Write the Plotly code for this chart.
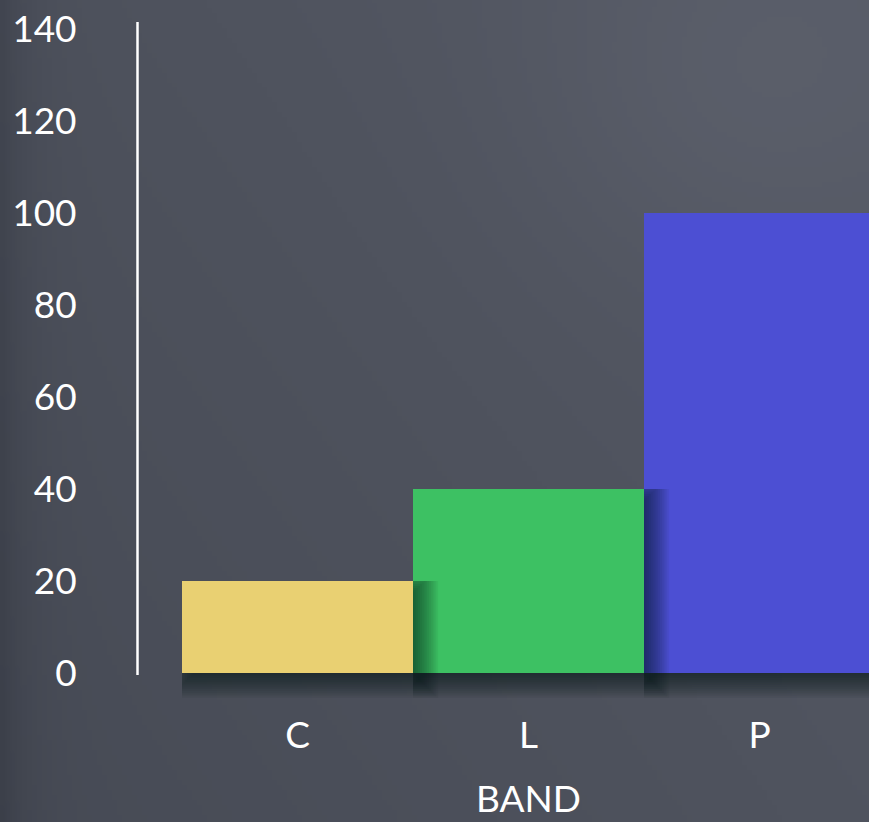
import base64
import struct
import zlib

import numpy as np
import plotly.graph_objects as go

# ---- data -------------------------------------------------------------
categories = ["C", "L", "P"]
values = [20, 40, 100]
bar_colors = ["#E9D072", "#3DC163", "#4C4FD3"]
y_ticks = [0, 20, 40, 60, 80, 100, 120, 140]
x_title = "BAND"

# ---- canvas / geometry -----------------------------------------------
W, H = 869, 822
L_M, R_M, T_M, B_M = 120, 0, 22, 122
plot_w = W - L_M - R_M
plot_h = H - T_M - B_M
x_range = [-0.7684, 2.474]
y_range = [-5.87, 141.52]
px_x = plot_w / (x_range[1] - x_range[0])
px_y = plot_h / (y_range[1] - y_range[0])

FONT = "Lato"
CHALK = "#FFFFFF"
FONT_SIZE = 37


# ---- chalkboard background (smooth gradient rendered to a PNG) -------
def png_data_uri(arr):
    h, w, _ = arr.shape
    raw = b"".join(b"\x00" + arr[r].tobytes() for r in range(h))

    def chunk(tag, data):
        c = struct.pack(">I", len(data)) + tag + data
        return c + struct.pack(">I", zlib.crc32(tag + data) & 0xFFFFFFFF)

    png = b"\x89PNG\r\n\x1a\n"
    png += chunk(b"IHDR", struct.pack(">IIBBBBB", w, h, 8, 2, 0, 0, 0))
    png += chunk(b"IDAT", zlib.compress(raw, 9))
    png += chunk(b"IEND", b"")
    return "data:image/png;base64," + base64.b64encode(png).decode()


gw, gh = 174, 165
u = np.linspace(0, 1, gw)[None, :]
v = np.linspace(0, 1, gh)[:, None]
base = np.array([79.0, 83.0, 94.0])
shade = (9 * (u - 0.5) - 6 * (v - 0.4)
         - 11 * np.exp(-u / 0.03)
         + 6 * np.exp(-((u - 0.85) ** 2 + (v - 0.1) ** 2) / 0.06))
bg = base[None, None, :] + shade[:, :, None] * np.array([1.0, 1.0, 1.05])
bg = np.clip(bg, 0, 255).astype(np.uint8)
bg_uri = png_data_uri(bg)

# ---- figure -------------------------------------------------------------
x_pos = list(range(len(categories)))

fig = go.Figure(
    go.Bar(
        x=x_pos,
        y=values,
        width=1.0,
        marker=dict(color=bar_colors, line=dict(width=0)),
        hoverinfo="skip",
    )
)

# soft drop shadows: stacked translucent layers approximating a blurred,
# offset copy of each bar, kept only where it falls outside the bar
shapes = []
dx, dy, blur, layers = 6.0, 6.0, 20.0, 22
alpha = 0.05
for i, v_ in enumerate(values):
    x0, x1 = i - 0.5, i + 0.5
    for k in range(layers):
        s = -blur + 2 * blur * (k + 0.5) / layers
        xr = x1 + (dx + s) / px_x
        yb = -(dy + s) / px_y
        if xr <= x1 and yb >= 0:
            continue
        xl = max(x0, x0 + (dx - s) / px_x)
        yt = min(v_, v_ - (dy - s) / px_y)
        xr = max(xr, x1)
        yb = min(yb, 0)
        path = (f"M {xl},0 L {x1},0 L {x1},{yt} L {xr},{yt} "
                f"L {xr},{yb} L {xl},{yb} Z")
        shapes.append(dict(type="path", path=path, xref="x", yref="y",
                           fillcolor=f"rgba(8,10,20,{alpha})",
                           line=dict(width=0), layer="above"))

# chalk-drawn vertical axis
axis_x = x_range[0] + (137.5 - L_M) / px_x
shapes.append(dict(type="line", xref="x", yref="y",
                   x0=axis_x, x1=axis_x, y0=-2.0 / px_y, y1=y_range[1],
                   line=dict(color=CHALK, width=2.5), layer="above"))

fig.update_layout(
    width=W,
    height=H,
    margin=dict(l=L_M, r=R_M, t=T_M, b=B_M, pad=0),
    paper_bgcolor="#4E525C",
    plot_bgcolor="rgba(0,0,0,0)",
    bargap=0,
    showlegend=False,
    font=dict(family=FONT, color=CHALK, size=FONT_SIZE),
    shapes=shapes,
    images=[dict(
        source=bg_uri,
        xref="paper", yref="paper",
        x=-L_M / plot_w, y=1 + T_M / plot_h,
        sizex=W / plot_w, sizey=H / plot_h,
        xanchor="left", yanchor="top",
        sizing="stretch", layer="below",
    )],
    annotations=[dict(
        text=x_title, xref="x", yref="paper",
        x=x_pos[len(x_pos) // 2], y=1 - (821 - T_M) / plot_h,
        xanchor="center", yanchor="bottom", showarrow=False,
        borderpad=0,
        font=dict(family=FONT, size=FONT_SIZE, color=CHALK),
    )],
    xaxis=dict(
        range=x_range,
        tickvals=x_pos,
        ticktext=categories,
        ticks="outside", ticklen=3, tickcolor="rgba(0,0,0,0)",
        showgrid=False, zeroline=False, showline=False,
        tickfont=dict(family=FONT, size=FONT_SIZE, color=CHALK),
        fixedrange=True,
    ),
    yaxis=dict(
        range=y_range,
        tickvals=y_ticks,
        ticks="outside", ticklen=35, tickcolor="rgba(0,0,0,0)",
        showgrid=False, zeroline=False, showline=False,
        tickfont=dict(family=FONT, size=FONT_SIZE, color=CHALK),
        fixedrange=True,
    ),
)

fig.write_html("out.html", config={"displayModeBar": False})
